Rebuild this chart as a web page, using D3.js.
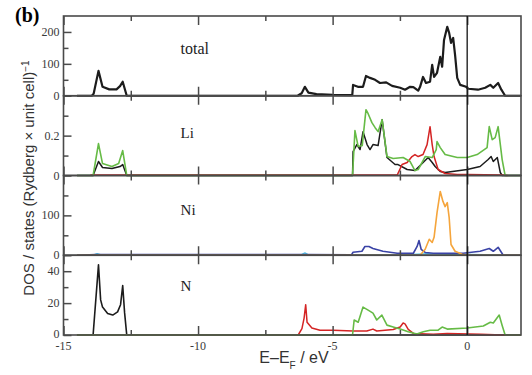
<!DOCTYPE html>
<html>
<head>
<meta charset="utf-8">
<script src="https://cdn.jsdelivr.net/npm/d3@7"></script>
<style>
  html, body { margin: 0; padding: 0; background: #fff; }
  svg { display: block; }
</style>
</head>
<body>
<div id="chart"></div>
<script>
// Energies (eV, relative to E_F) paired with DOS values
const totalDOS = [[-14.5,0],[-13.95,0],[-13.88,6],[-13.7,78],[-13.55,28],[-13.3,20],[-13.03,20],[-12.9,30],[-12.8,44],[-12.65,0],
  [-6.3,0],[-6.15,8],[-6.03,28],[-5.9,10],[-5.6,5],[-5.0,3],[-4.27,2],[-4.24,34],[-4.06,28],[-3.87,28],[-3.76,62],[-3.61,56],
  [-3.42,50],[-3.24,40],[-3.01,42],[-2.79,31],[-2.49,25],[-2.31,19],[-2.12,28],[-2.0,27],[-1.82,16],[-1.75,28],[-1.64,59],
  [-1.53,40],[-1.38,44],[-1.3,97],[-1.23,59],[-1.12,72],[-1.0,122],[-0.93,91],[-0.86,175],[-0.74,216],[-0.67,197],[-0.6,166],
  [-0.52,181],[-0.45,128],[-0.37,56],[-0.26,34],[-0.04,28],[0.04,22],[0.4,19],[0.67,25],[0.86,34],[0.97,25],[1.15,40],
  [1.27,19],[1.41,0],[2.0,0]];

const liBlack = [[-14.5,0],[-13.9,0],[-13.7,0.07],[-13.55,0.04],[-13.2,0.035],[-12.9,0.045],[-12.8,0.055],[-12.65,0],
  [-4.26,0],[-4.24,0.12],[-4.1,0.155],[-3.98,0.13],[-3.87,0.22],[-3.72,0.155],[-3.61,0.13],[-3.5,0.155],[-3.31,0.15],
  [-3.16,0.28],[-2.98,0.09],[-2.68,0.055],[-2.57,0.055],[-2.23,0.03],[-1.94,0.025],[-1.75,0.05],[-1.45,0.09],[-1.3,0.065],
  [-1.19,0.045],[-1.0,0.02],[-0.82,0.015],[0,0.03],[0.48,0.045],[0.78,0.08],[0.89,0.095],[0.97,0.07],[1.12,0.09],
  [1.23,0.015],[1.3,0],[2.0,0]];
const liGreen = [[-14.5,0],[-13.9,0],[-13.7,0.16],[-13.55,0.06],[-13.2,0.045],[-12.95,0.06],[-12.8,0.125],[-12.65,0],
  [-4.26,0],[-4.17,0.225],[-4.05,0.145],[-3.9,0.15],[-3.76,0.33],[-3.68,0.31],[-3.54,0.265],[-3.42,0.24],[-3.31,0.22],
  [-3.16,0.28],[-2.98,0.095],[-2.75,0.085],[-2.38,0.09],[-2.12,0.07],[-1.94,0.025],[-1.82,0.03],[-1.56,0.095],[-1.3,0.09],
  [-1.15,0.13],[-1.12,0.17],[-1.0,0.14],[-0.82,0.105],[-0.37,0.09],[0,0.09],[0.37,0.105],[0.74,0.14],[0.82,0.245],
  [0.93,0.18],[1.04,0.19],[1.15,0.245],[1.3,0.08],[1.41,0],[2.0,0]];
const liRed = [[-14.0,0.002],[-12.7,0.002],[-2.6,0.002],[-2.42,0.055],[-2.23,0.065],[-2.05,0.095],[-1.94,0.105],[-1.82,0.095],
  [-1.64,0.105],[-1.49,0.155],[-1.38,0.245],[-1.3,0.155],[-1.23,0.095],[-1.08,0.03],[-0.82,0.01],[-0.37,0.005],[0,0.005],
  [1.3,0.002],[1.5,0]];

const niBlue = [[-14.5,0],[-13.8,1.5],[-6.0,2],[-4.3,1],[-4.24,7.5],[-3.91,10],[-3.8,22],[-3.65,22],[-3.5,17],[-3.13,10],
  [-2.6,5],[-2.0,5],[-1.86,22],[-1.79,37],[-1.71,15],[-1.56,7],[-1.26,5],[-0.15,5],[0.48,10],[0.82,17],[0.97,10],[1.15,20],
  [1.34,0],[2.0,0]];
const niOrange = [[-14.5,0],[-1.75,0],[-1.56,15],[-1.41,40],[-1.3,32],[-1.23,45],[-1.12,107],[-1.0,160],[-0.9,135],
  [-0.82,122],[-0.74,132],[-0.67,95],[-0.6,27],[-0.45,10],[-0.19,2.5],[0,0.5],[2.0,0]];
const niCyan = [[-14.5,0],[-13.9,0],[-13.75,4],[-13.6,1],[-12.7,0],[-6.2,0],[-6.03,6],[-5.9,1],[-4.24,1],[-2.0,2],
  [-1.5,4],[-1.0,3],[0,2],[1.3,1],[1.4,0],[2.0,0]];

const nBlack = [[-14.5,0],[-13.9,0],[-13.7,44],[-13.62,22],[-13.55,17.5],[-13.36,13.5],[-13.17,12.5],[-12.99,14.5],
  [-12.88,19],[-12.8,31],[-12.73,14],[-12.65,0],[2.0,0]];
const nRed = [[-14.5,0],[-6.28,0],[-6.14,4],[-6.06,10.6],[-6.0,19],[-5.95,8],[-5.77,4.4],[-5.47,3],[-4.98,3],[-4.24,2.5],
  [-3.73,2.5],[-3.5,3.7],[-3.36,2.5],[-2.75,3.5],[-2.49,5],[-2.38,7.5],[-2.31,7],[-2.19,3.5],[-2.0,1],[-1.26,0.5],
  [-0.74,1],[0.5,0.5],[1.3,0],[2.0,0]];
const nGreen = [[-14.5,0],[-4.26,0],[-4.2,9.4],[-4.05,8],[-3.87,17.5],[-3.68,15.6],[-3.5,13.7],[-3.36,9.4],[-3.17,12.5],
  [-2.98,6.2],[-2.75,5],[-2.49,3.7],[-2.19,2],[-1.87,0.6],[-1.63,2],[-1.38,3],[-1.08,3],[-0.93,5],[-0.74,3.7],[0,4.4],
  [0.6,5.6],[0.86,8],[0.97,7.5],[1.19,12.5],[1.3,6],[1.41,0],[2.0,0]];

const panelNames = ['total', 'Li', 'Ni', 'N'];
const panelMax = [250, 0.4, 200, 50];
const majorTicks = [[0, 100, 200], [0, 0.2], [0, 100], [0, 20, 40]];
const minorTicks = [[50, 150], [0.1, 0.3], [50, 150], [10, 30]];
const xDomain = [-15, 2];
const xMajor = [-15, -10, -5, 0];
const xMinor = [-12.5, -7.5, -2.5];

const COL = { black: '#1c1c1c', green: '#66bb46', red: '#d42424', blue: '#3a43a6', orange: '#f5a53c', cyan: '#55c4e4' };
const panelSeries = [
  [{ d: totalDOS, c: COL.black, w: 2.2 }],
  [{ d: liBlack, c: COL.black, w: 1.5 }, { d: liRed, c: COL.red, w: 1.5 }, { d: liGreen, c: COL.green, w: 1.6 }],
  [{ d: niCyan, c: COL.cyan, w: 1.4 }, { d: niBlue, c: COL.blue, w: 1.6 }, { d: niOrange, c: COL.orange, w: 1.6 }],
  [{ d: nBlack, c: COL.black, w: 1.6 }, { d: nRed, c: COL.red, w: 1.5 }, { d: nGreen, c: COL.green, w: 1.6 }],
];

const W = 532, H = 375;
const m = { top: 16, left: 63.5, right: 11, bottom: 40 };
const pw = W - m.left - m.right;
const ph = (335 - m.top) / 4;
const frame = '#4a4a4a';
const serif = 'Liberation Serif, Times New Roman, serif';
const sans = 'Liberation Sans, Arial, sans-serif';

const svg = d3.select('#chart').append('svg').attr('width', W).attr('height', H);
const g = svg.append('g').attr('transform', `translate(${m.left},${m.top})`);

const x = d3.scaleLinear().domain(xDomain).range([0, pw]);

panelNames.forEach((name, i) => {
  const top = i * ph;
  const y = d3.scaleLinear().domain([0, panelMax[i]]).range([top + ph, top]);
  const p = g.append('g');

  // courbes
  const line = d3.line().x(d => x(d[0])).y(d => y(d[1]));
  panelSeries[i].forEach(s => {
    p.append('path').datum(s.d)
      .attr('fill', 'none').attr('stroke', s.c).attr('stroke-width', s.w)
      .attr('stroke-linejoin', 'round').attr('d', line);
  });

  // axe Y : graduations vers l'intérieur
  const fmt = v => (panelMax[i] < 1 ? (v === 0 ? '0' : d3.format('.1f')(v)) : String(v));
  p.append('g')
    .call(d3.axisRight(y).tickValues(majorTicks[i]).tickSize(8).tickFormat(''))
    .call(a => a.select('.domain').remove())
    .call(a => a.selectAll('line').attr('stroke', frame).attr('stroke-width', 1.5));
  p.append('g')
    .call(d3.axisRight(y).tickValues(minorTicks[i]).tickSize(5).tickFormat(''))
    .call(a => a.select('.domain').remove())
    .call(a => a.selectAll('line').attr('stroke', frame).attr('stroke-width', 1.5));
  p.selectAll('.ylab').data(majorTicks[i]).join('text')
    .attr('x', -4).attr('y', d => y(d) + (i === 3 && d === 0 ? 2.5 : 4))
    .attr('text-anchor', 'end')
    .style('font-family', serif).style('font-size', '12px').style('fill', '#3a3a3a')
    .text(fmt);

  // graduations X en haut et en bas de chaque panneau
  [[xMajor, 9], [xMinor, 5]].forEach(([vals, len]) => {
    p.append('g').attr('transform', `translate(0,${top})`)
      .call(d3.axisBottom(x).tickValues(vals).tickSize(len).tickFormat(''))
      .call(a => a.select('.domain').remove())
      .call(a => a.selectAll('line').attr('stroke', frame).attr('stroke-width', 1.5));
    p.append('g').attr('transform', `translate(0,${top + ph})`)
      .call(d3.axisTop(x).tickValues(vals).tickSize(len).tickFormat(''))
      .call(a => a.select('.domain').remove())
      .call(a => a.selectAll('line').attr('stroke', frame).attr('stroke-width', 1.5));
  });

  // cadre du panneau
  p.append('rect').attr('x', 0).attr('y', top).attr('width', pw).attr('height', ph)
    .attr('fill', 'none').attr('stroke', frame).attr('stroke-width', 1.6);

  p.append('text')
    .attr('x', x(-10.65)).attr('y', [38, 42.5, 39, 36][i] + top)
    .style('font-family', serif).style('font-size', i === 0 ? '16px' : '15px').style('fill', '#222')
    .text(name);
});

// niveau de Fermi
g.append('line')
  .attr('x1', x(0)).attr('x2', x(0)).attr('y1', 0).attr('y2', 4 * ph)
  .attr('stroke', '#111').attr('stroke-width', 1.3);

// étiquettes de l'axe X
g.selectAll('.xlab').data(xMajor).join('text')
  .attr('x', d => x(d)).attr('y', 4 * ph + 14.5)
  .attr('text-anchor', 'middle')
  .style('font-family', serif).style('font-size', '12px').style('fill', '#3a3a3a')
  .text(d => String(d));

const xl = svg.append('text')
  .attr('x', 294).attr('y', 363).attr('text-anchor', 'middle')
  .style('font-family', sans).style('font-size', '16px').style('fill', '#333');
xl.append('tspan').text('E–E');
xl.append('tspan').attr('baseline-shift', 'sub').style('font-size', '10px').text('F');
xl.append('tspan').text(' / eV');

const yl = svg.append('text')
  .attr('transform', 'translate(34,178) rotate(-90)').attr('text-anchor', 'middle')
  .style('font-family', sans).style('font-size', '15px').style('fill', '#333');
yl.append('tspan').text('DOS / states (Rydberg × unit cell)');
yl.append('tspan').attr('baseline-shift', 'super').style('font-size', '10px').text('−1');

svg.append('text')
  .attr('x', 15).attr('y', 22)
  .style('font-family', serif).style('font-size', '20px').style('font-weight', 'bold')
  .text('(b)');
</script>
</body>
</html>
